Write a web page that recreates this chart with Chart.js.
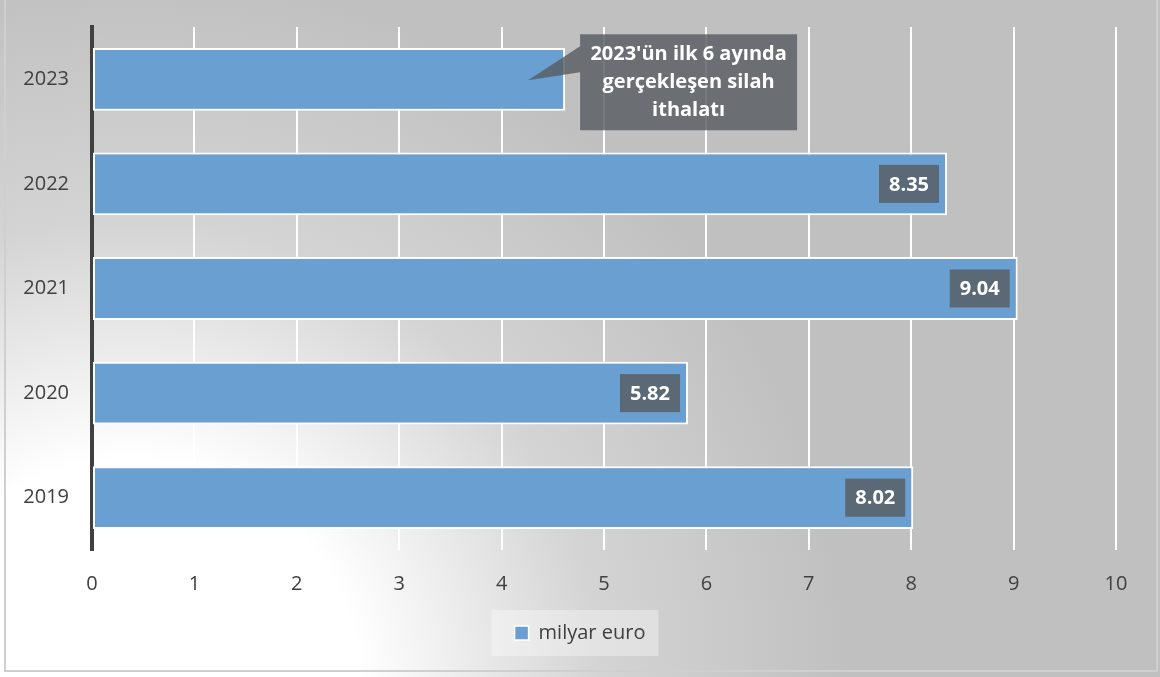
<!DOCTYPE html>
<html>
<head>
<meta charset="utf-8">
<script src="https://cdn.jsdelivr.net/npm/chart.js@4.4.0/dist/chart.umd.min.js"></script>
<style>
  html, body { margin: 0; padding: 0; background: #fff; }
  #wrap { width: 1160px; height: 677px; position: relative; }
</style>
</head>
<body>
<div id="wrap"><canvas id="importChart" width="1160" height="677"></canvas></div>
<script>
const years = ['2023', '2022', '2021', '2020', '2019'];
const imports = [4.62, 8.35, 9.04, 5.82, 8.02];
const xTicks = [0, 1, 2, 3, 4, 5, 6, 7, 8, 9, 10];
const seriesName = 'milyar euro';
const calloutLines = ["2023'ün ilk 6 ayında", 'gerçekleşen silah', 'ithalatı'];

const FONT = '"Open Sans", "Noto Sans", sans-serif';
const BAR_BLUE = '#6a9fd1';

// gradient background, frame and legend box
const backdrop = {
    id: 'backdrop',
    beforeDraw(chart) {
        const ctx = chart.ctx;
        const w = chart.width, h = chart.height;
        ctx.save();
        const g = ctx.createRadialGradient(130, 690, 0, 130, 690, 720);
        g.addColorStop(0, '#ffffff');
        g.addColorStop(0.32, '#ffffff');
        g.addColorStop(0.65, '#d4d4d4');
        g.addColorStop(1, '#c0c0c0');
        ctx.fillStyle = g;
        ctx.fillRect(0, 0, w, h);
        ctx.strokeStyle = '#cfcfcf';
        ctx.lineWidth = 2;
        ctx.strokeRect(5, -2, w - 8, h - 4);

        const hb = chart.legend && chart.legend.legendHitBoxes[0];
        if (hb) {
            ctx.fillStyle = 'rgba(255,255,255,0.35)';
            ctx.fillRect(hb.left - 23, hb.top + hb.height / 2 - 23, hb.width + 36, 46);
        }
        ctx.restore();
    }
};

// value labels and the 2023 callout
const annotations = {
    id: 'annotations',
    afterDatasetsDraw(chart) {
        const ctx = chart.ctx;
        const meta = chart.getDatasetMeta(0);
        ctx.save();
        ctx.font = 'bold 20px ' + FONT;
        ctx.textAlign = 'center';
        ctx.textBaseline = 'middle';

        meta.data.forEach((bar, i) => {
            if (i === 0) return;
            const txt = imports[i].toFixed(2);
            const bw = 60, bh = 38;
            const bx = bar.x - 8 - bw;
            const by = bar.y - bh / 2;
            ctx.fillStyle = 'rgba(88,93,99,0.84)';
            ctx.fillRect(bx, by, bw, bh);
            ctx.fillStyle = '#ffffff';
            ctx.fillText(txt, bx + bw / 2, bar.y + 1);
        });

        // callout for the first bar
        const first = meta.data[0];
        const tipX = first.x - 37, tipY = first.y + 1;
        const cx = first.x + 15, cy = first.y - 45, cw = 217, ch = 96;
        ctx.fillStyle = 'rgba(88,93,99,0.82)';
        ctx.beginPath();
        ctx.moveTo(cx, cy);
        ctx.lineTo(cx + cw, cy);
        ctx.lineTo(cx + cw, cy + ch);
        ctx.lineTo(cx, cy + ch);
        ctx.lineTo(cx, cy + 38);
        ctx.lineTo(tipX, tipY);
        ctx.lineTo(cx, cy + 12);
        ctx.closePath();
        ctx.fill();
        ctx.fillStyle = '#ffffff';
        calloutLines.forEach((line, k) => {
            ctx.fillText(line, cx + cw / 2, cy + 20 + k * 28);
        });
        ctx.restore();
    }
};

new Chart(document.getElementById('importChart'), {
    type: 'bar',
    data: {
        labels: years,
        datasets: [{
            label: seriesName,
            data: imports,
            backgroundColor: BAR_BLUE,
            borderColor: '#ffffff',
            borderWidth: 2,
            borderSkipped: false,
            barPercentage: 0.6,
            categoryPercentage: 1.0
        }]
    },
    options: {
        indexAxis: 'y',
        responsive: false,
        animation: false,
        devicePixelRatio: 1,
        layout: { padding: { left: 0, right: 0, top: 23, bottom: 24 } },
        plugins: {
            legend: {
                position: 'bottom',
                labels: {
                    font: { family: FONT, size: 20 },
                    color: '#404040',
                    boxWidth: 14,
                    boxHeight: 14,
                    padding: 12,
                    generateLabels(chart) {
                        return [{
                            text: seriesName,
                            fillStyle: BAR_BLUE,
                            strokeStyle: '#ffffff',
                            lineWidth: 1.5,
                            datasetIndex: 0,
                            fontColor: '#404040'
                        }];
                    }
                }
            },
            tooltip: { enabled: false }
        },
        scales: {
            x: {
                min: 0,
                max: 10,
                afterBuildTicks(scale) {
                    scale.ticks = xTicks.map(v => ({ value: v }));
                },
                afterFit(scale) { scale.height = 61; },
                grid: { color: '#ffffff', lineWidth: 2, drawTicks: false },
                border: { display: false },
                ticks: {
                    color: '#404040',
                    font: { family: FONT, size: 20 },
                    padding: 22
                }
            },
            y: {
                afterFit(scale) { scale.width = 92; },
                grid: { display: false },
                border: { display: true, color: '#404040', width: 4 },
                ticks: {
                    color: '#404040',
                    font: { family: FONT, size: 20 },
                    padding: 15
                }
            },
            // empty right-hand axis keeps the plot edge at x=10 while the legend stays centred
            yRight: {
                position: 'right',
                afterFit(scale) { scale.width = 44; },
                grid: { display: false },
                border: { display: false },
                ticks: { display: false }
            }
        }
    },
    plugins: [backdrop, annotations]
});
</script>
</body>
</html>
